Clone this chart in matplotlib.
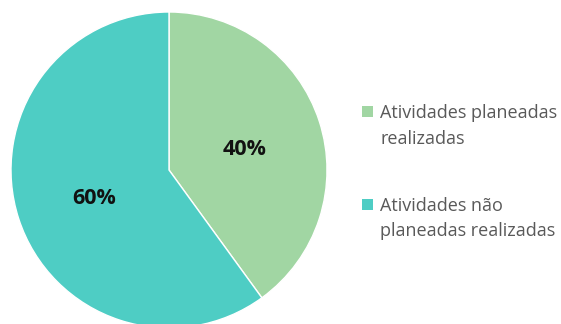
import matplotlib
matplotlib.use('Agg')
import matplotlib.pyplot as plt
from matplotlib.patches import Rectangle

# chart data
labels = ['Atividades planeadas\nrealizadas', 'Atividades não\nplaneadas realizadas']
values = [40, 60]
colors = ['#A1D6A3', '#4ECDC4']

W, H = 561, 324
fig = plt.figure(figsize=(W / 100, H / 100), dpi=100)
# axes box placed in pixel units so the circle sits where the reference has it
ax = fig.add_axes([11 / W, -4 / H, 316 / W, 316 / H])
wedges, texts, autotexts = ax.pie(values, colors=colors, startangle=90, counterclock=False,
                                  radius=1, autopct='%d%%', pctdistance=0.5,
                                  wedgeprops=dict(linewidth=1, edgecolor='white'))
for t in autotexts:
    t.set_fontsize(15.5)
    t.set_fontweight('bold')
    t.set_color('#111111')
    t.set_family('Open Sans')
    x, y = t.get_position()
    t.set_position((x, y - 0.025))
ax.set_xlim(-1, 1)
ax.set_ylim(-1, 1)
ax.set_aspect('equal')
ax.axis('off')

# legend drawn by hand so the square lines up with the first text line
baselines = [118, 211]
for lab, c, yb in zip(labels, colors, baselines):
    fig.patches.append(Rectangle((362 / W, 1 - (yb - 1) / H), 11 / W, 11 / H,
                                 transform=fig.transFigure, facecolor=c, edgecolor='none'))
    for k, line in enumerate(lab.split('\n')):
        fig.text(380 / W, 1 - (yb + 25.5 * k) / H, line, ha='left', va='baseline',
                 fontsize=13, family='Open Sans', color='#595959')

fig.savefig('out.png', dpi=100)
